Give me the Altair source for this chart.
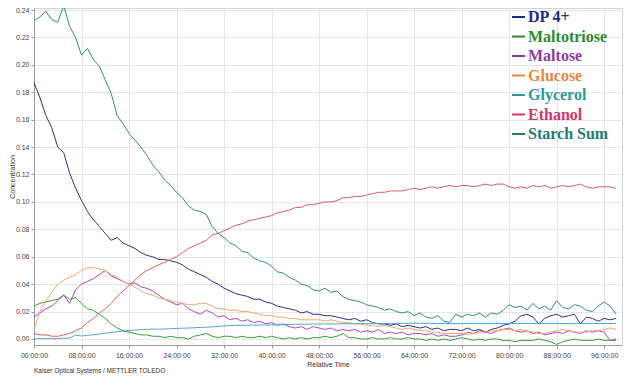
import altair as alt
import pandas as pd

hours = list(range(99))

names = ["DP 4+", "Maltotriose", "Maltose", "Glucose", "Glycerol", "Ethanol", "Starch Sum"]
line_colors = ["#2d2f8a", "#33a23a", "#b246c2", "#f2a86a", "#4ea6dc", "#dd5f5f", "#2b8f83"]
text_colors = ["#1e2d82", "#2e8b31", "#8f3a9e", "#e7863f", "#2a9aa0", "#d0376c", "#1e7c74"]

starch_sum = [
    0.232, 0.235, 0.239, 0.233, 0.231, 0.243, 0.228, 0.220, 0.207, 0.212,
    0.204, 0.199, 0.189, 0.179, 0.163, 0.157, 0.150, 0.145, 0.140, 0.134,
    0.127, 0.122, 0.116, 0.112, 0.107, 0.103, 0.097, 0.094, 0.093, 0.091,
    0.082, 0.077, 0.074, 0.070, 0.068, 0.064, 0.063, 0.059, 0.057, 0.056,
    0.053, 0.049, 0.048, 0.045, 0.043, 0.040, 0.039, 0.036, 0.035, 0.037,
    0.034, 0.035, 0.031, 0.029, 0.028, 0.027, 0.025, 0.024, 0.023, 0.021,
    0.022, 0.020, 0.019, 0.020, 0.017, 0.019, 0.016, 0.015, 0.017, 0.013,
    0.012, 0.018, 0.016, 0.018, 0.017, 0.019, 0.016, 0.019, 0.018, 0.021,
    0.025, 0.023, 0.024, 0.021, 0.026, 0.022, 0.024, 0.021, 0.028, 0.023,
    0.022, 0.025, 0.024, 0.021, 0.020, 0.024, 0.027, 0.024, 0.018,
]
dp4 = [
    0.187, 0.176, 0.163, 0.154, 0.140, 0.136, 0.121, 0.110, 0.101, 0.093,
    0.087, 0.082, 0.077, 0.072, 0.074, 0.070, 0.068, 0.066, 0.063, 0.061,
    0.060, 0.058, 0.058, 0.057, 0.056, 0.054, 0.051, 0.049, 0.047, 0.045,
    0.042, 0.040, 0.037, 0.035, 0.033, 0.032, 0.031, 0.029, 0.029, 0.027,
    0.026, 0.024, 0.023, 0.022, 0.021, 0.019, 0.020, 0.018, 0.018, 0.017,
    0.017, 0.016, 0.015, 0.014, 0.015, 0.013, 0.014, 0.012, 0.011, 0.011,
    0.010, 0.011, 0.009, 0.010, 0.009, 0.008, 0.009, 0.007, 0.008, 0.006,
    0.007, 0.007, 0.006, 0.008, 0.006, 0.007, 0.005, 0.007, 0.008, 0.010,
    0.011, 0.013, 0.017, 0.018, 0.016, 0.011, 0.015, 0.017, 0.018, 0.016,
    0.017, 0.018, 0.011, 0.016, 0.015, 0.013, 0.015, 0.014, 0.015,
]
ethanol = [
    0.004, 0.003, 0.003, 0.002, 0.002, 0.003, 0.004, 0.006, 0.008, 0.012,
    0.015, 0.019, 0.022, 0.026, 0.031, 0.035, 0.039, 0.043, 0.047, 0.050,
    0.052, 0.054, 0.056, 0.058, 0.060, 0.063, 0.066, 0.068, 0.070, 0.072,
    0.076, 0.077, 0.079, 0.081, 0.083, 0.084, 0.086, 0.087, 0.088, 0.089,
    0.090, 0.092, 0.093, 0.094, 0.096, 0.096, 0.098, 0.098, 0.099, 0.100,
    0.100, 0.101, 0.103, 0.103, 0.104, 0.104, 0.105, 0.106, 0.107, 0.107,
    0.108, 0.108, 0.108, 0.109, 0.110, 0.109, 0.110, 0.111, 0.110, 0.111,
    0.112, 0.111, 0.112, 0.112, 0.111, 0.112, 0.113, 0.112, 0.113, 0.113,
    0.111, 0.110, 0.111, 0.110, 0.112, 0.111, 0.112, 0.110, 0.111, 0.112,
    0.111, 0.112, 0.113, 0.111, 0.110, 0.111, 0.111, 0.111, 0.110,
]
glucose = [
    0.007, 0.020, 0.028, 0.034, 0.040, 0.043, 0.045, 0.047, 0.050, 0.052,
    0.052, 0.051, 0.050, 0.047, 0.045, 0.042, 0.040, 0.038, 0.035, 0.033,
    0.032, 0.030, 0.029, 0.028, 0.027, 0.026, 0.025, 0.025, 0.026, 0.026,
    0.024, 0.022, 0.022, 0.021, 0.021, 0.020, 0.020, 0.019, 0.018, 0.017,
    0.017, 0.016, 0.016, 0.015, 0.015, 0.014, 0.014, 0.014, 0.014, 0.013,
    0.014, 0.013, 0.012, 0.012, 0.011, 0.011, 0.010, 0.010, 0.009, 0.010,
    0.009, 0.008, 0.007, 0.008, 0.007, 0.006, 0.006, 0.005, 0.005, 0.004,
    0.004, 0.004, 0.004, 0.003, 0.004, 0.005, 0.005, 0.006, 0.006, 0.007,
    0.007, 0.006, 0.007, 0.006, 0.005, 0.004, 0.004, 0.005, 0.006, 0.007,
    0.006, 0.005, 0.005, 0.005, 0.006, 0.006, 0.007, 0.008, 0.007,
]
maltose = [
    0.016, 0.019, 0.022, 0.024, 0.028, 0.032, 0.026, 0.036, 0.040, 0.042,
    0.044, 0.047, 0.050, 0.046, 0.044, 0.042, 0.040, 0.041, 0.038, 0.037,
    0.035, 0.032, 0.029, 0.027, 0.025, 0.026, 0.022, 0.020, 0.018, 0.021,
    0.019, 0.016, 0.017, 0.014, 0.015, 0.013, 0.014, 0.012, 0.013, 0.011,
    0.012, 0.010, 0.011, 0.009, 0.008, 0.009, 0.007, 0.009, 0.008, 0.007,
    0.008, 0.006, 0.007, 0.006, 0.007, 0.005, 0.006, 0.005, 0.007, 0.004,
    0.005, 0.004, 0.005, 0.003, 0.004, 0.004, 0.003, 0.004, 0.002, 0.003,
    0.002, 0.002, 0.003, 0.005, 0.004, 0.006, 0.005, 0.004, 0.006, 0.007,
    0.008, 0.006, 0.005, 0.006, 0.004, 0.005, 0.003, 0.004, 0.005, 0.004,
    0.006, 0.005, 0.004, 0.006, 0.005, 0.006, 0.005, -0.001, 0.000,
]
maltotriose = [
    0.024, 0.026, 0.027, 0.028, 0.029, 0.032, 0.029, 0.030, 0.026, 0.022,
    0.021, 0.018, 0.015, 0.011, 0.008, 0.006, 0.005, 0.004, 0.003, 0.003,
    0.002, 0.002, 0.001, 0.002, 0.001, 0.001, 0.000, 0.002, 0.003, 0.004,
    0.002, 0.001, 0.002, 0.002, 0.001, 0.002, 0.001, 0.001, 0.002, 0.001,
    0.002, 0.001, 0.000, 0.001, 0.000, 0.001, 0.000, 0.001, 0.001, 0.002,
    0.001, 0.002, 0.004, 0.001, 0.001, 0.000, 0.000, 0.001, 0.000, 0.000,
    0.001, 0.000, 0.000, 0.001, 0.000, 0.000, -0.001, 0.000, -0.001, 0.000,
    -0.001, 0.000, 0.001, 0.000, -0.001, 0.000, -0.001, 0.000, 0.000, -0.001,
    -0.001, -0.002, -0.001, -0.001, -0.001, 0.000, -0.001, -0.002, -0.004, -0.002,
    -0.001, 0.000, -0.001, -0.001, -0.001, 0.000, -0.001, -0.001, -0.001,
]
glycerol = [
    0.0002, 0.0002, 0.0003, 0.0003, 0.0004, 0.0005, 0.0008, 0.0028, 0.0022, 0.0026,
    0.0032, 0.0036, 0.0042, 0.0048, 0.0053, 0.0058, 0.0062, 0.0065, 0.0068, 0.0070,
    0.0072, 0.0072, 0.0073, 0.0075, 0.0077, 0.0079, 0.0080, 0.0082, 0.0084, 0.0086,
    0.0088, 0.0092, 0.0095, 0.0098, 0.0100, 0.0100, 0.0101, 0.0101, 0.0102, 0.0102,
    0.0103, 0.0104, 0.0105, 0.0106, 0.0107, 0.0108, 0.0108, 0.0109, 0.0109, 0.0110,
    0.0110, 0.0110, 0.0111, 0.0111, 0.0111, 0.0112, 0.0112, 0.0112, 0.0113, 0.0113,
    0.0114, 0.0114, 0.0114, 0.0115, 0.0115, 0.0115, 0.0114, 0.0114, 0.0113, 0.0113,
    0.0113, 0.0113, 0.0113, 0.0113, 0.0113, 0.0113, 0.0113, 0.0113, 0.0113, 0.0113,
    0.0113, 0.0113, 0.0113, 0.0113, 0.0113, 0.0113, 0.0113, 0.0113, 0.0113, 0.0113,
    0.0113, 0.0113, 0.0113, 0.0113, 0.0113, 0.0113, 0.0113, 0.0113, 0.0113,
]

x_ticks = [0, 8, 16, 24, 32, 40, 48, 56, 64, 72, 80, 88, 96]
y_ticks = [0.0, 0.02, 0.04, 0.06, 0.08, 0.10, 0.12, 0.14, 0.16, 0.18, 0.20, 0.22, 0.24]

series_values = [dp4, maltotriose, maltose, glucose, glycerol, ethanol, starch_sum]
rows = []
for name, vals in zip(names, series_values):
    for h, v in zip(hours, vals):
        rows.append({"hour": h, "value": v, "series": name})
df = pd.DataFrame(rows)
legend_df = pd.DataFrame({"series": names})

W, H = 588, 337

lines = alt.Chart(df).mark_line(strokeWidth=1).encode(
    x=alt.X(
        "hour:Q",
        scale=alt.Scale(domain=[0, 99], nice=False, zero=False),
        axis=alt.Axis(
            values=x_ticks,
            labelExpr="(datum.value < 10 ? '0' : '') + datum.value + ':00:00'",
            title="Relative Time",
            tickSize=3,
            labelPadding=3,
            titlePadding=2,
            labelFlush=False,
        ),
    ),
    y=alt.Y(
        "value:Q",
        scale=alt.Scale(domain=[-0.00438, 0.24146], nice=False, zero=False),
        axis=alt.Axis(
            values=y_ticks,
            format=".2f",
            title="Concentration",
            tickSize=3,
            labelPadding=2,
            titleX=-19,
        ),
    ),
    color=alt.Color("series:N", scale=alt.Scale(domain=names, range=line_colors), legend=None),
)

leg_y = alt.Y("series:N", sort=names, scale=alt.Scale(type="point", range=[9, 126], padding=0), axis=None)
leg_color = alt.Color("series:N", scale=alt.Scale(domain=names, range=text_colors), legend=None)

leg_rule = alt.Chart(legend_df).mark_rule(strokeWidth=2).encode(
    x=alt.value(478), x2=alt.value(491), y=leg_y, color=leg_color
)
leg_text = alt.Chart(legend_df).mark_text(
    align="left", baseline="middle", font="Liberation Serif", fontWeight="bold", fontSize=16
).encode(x=alt.value(494), y=leg_y, text="series:N", color=leg_color)

chart = (
    alt.layer(lines, leg_rule, leg_text)
    .resolve_scale(y="independent", color="independent")
    .properties(
        width=W,
        height=H,
        autosize=alt.AutoSizeParams(type="none"),
        padding={"left": 26, "top": 0, "right": 2, "bottom": 31},
        title=alt.TitleParams(
            "Kaiser Optical Systems / METTLER TOLEDO",
            orient="bottom",
            anchor="start",
            frame="group",
            fontSize=6.5,
            font="Liberation Sans",
            fontWeight="normal",
            color="#333333",
            offset=1,
        ),
    )
    .configure_view(stroke="#d4d4d4")
    .configure_axis(
        labelFont="Liberation Sans",
        labelFontSize=7,
        labelColor="#444444",
        titleFont="Liberation Sans",
        titleFontSize=7,
        titleFontWeight="normal",
        titleColor="#333333",
        tickColor="#9a9a9a",
        domainColor="#9a9a9a",
        gridColor="#e6e6e6",
    )
)

chart.save("out.html", embed_options={"renderer": "svg", "actions": False})
